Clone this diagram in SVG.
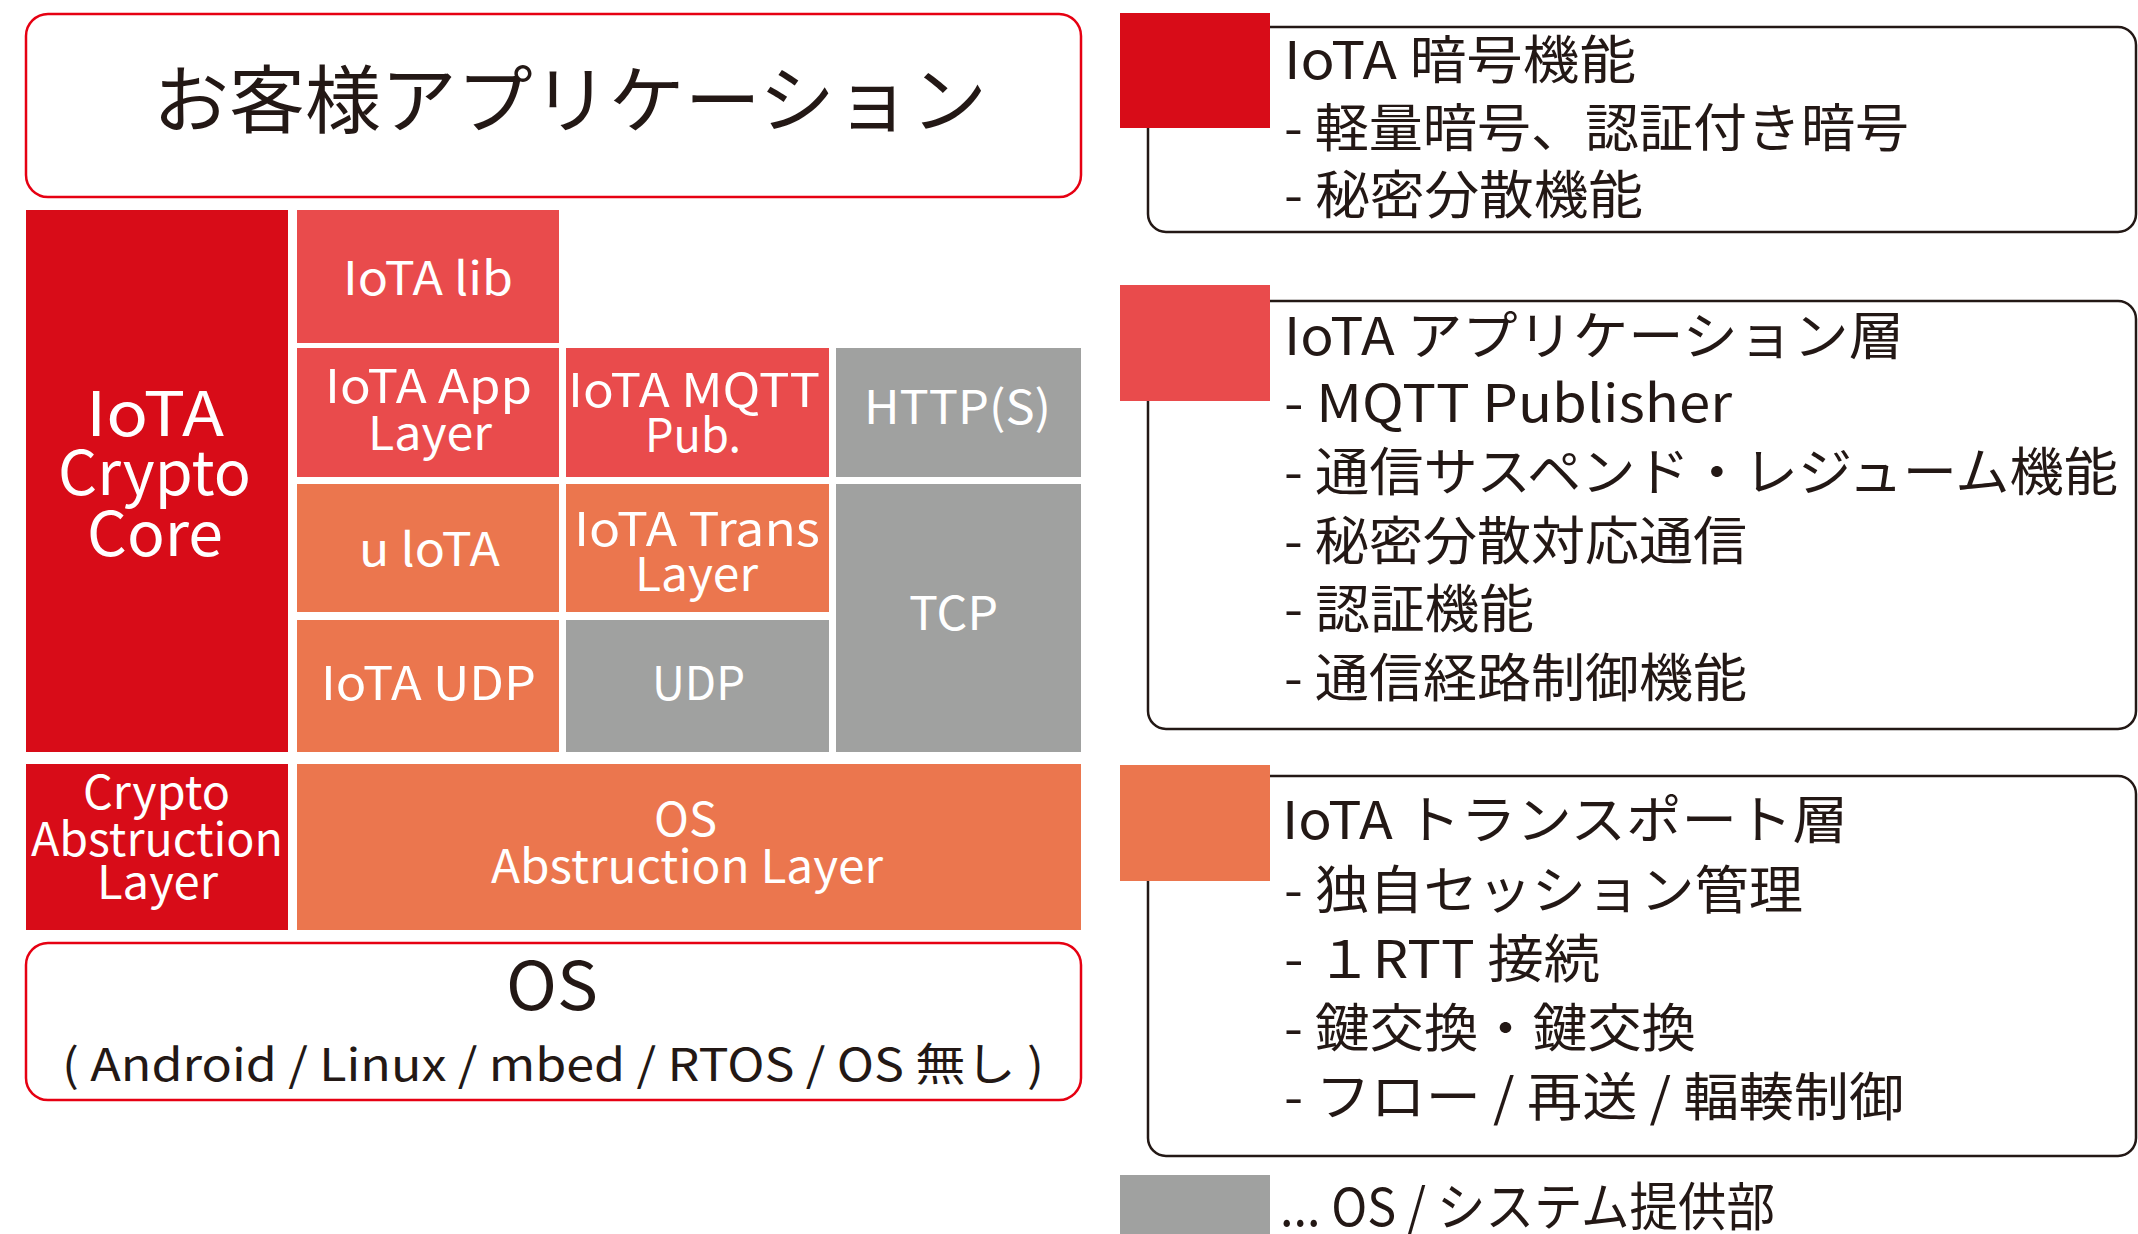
<svg xmlns="http://www.w3.org/2000/svg" width="2138" height="1234" viewBox="0 0 2138 1234">
<style>
text{font-family:"Noto Sans CJK JP","Noto Sans",sans-serif;}
.w{fill:#ffffff;}
.d{fill:#231815;}
.frame{fill:#ffffff;stroke:#E60012;stroke-width:2.5;}
.leg{fill:none;stroke:#231815;stroke-width:2.5;}
.c1{fill:#D80C18;}
.c2{fill:#E94B4C;}
.c3{fill:#EB764E;}
.c4{fill:#A0A1A0;}
.f46{font-size:46px;}
.f52{font-size:52px;}
</style>
<rect width="2138" height="1234" fill="#ffffff"/>
<g id="app">
<rect class="frame" x="26" y="14" width="1055" height="183" rx="22"/>
<text class="d" x="153" y="127" font-size="74" textLength="834" lengthAdjust="spacingAndGlyphs">お客様アプリケーション</text>
</g>
<g id="crypto-core">
<rect class="c1" x="26" y="210" width="262" height="542"/>
<text class="w" x="86" y="436" font-size="61" textLength="138" lengthAdjust="spacingAndGlyphs">IoTA</text>
<text class="w" x="58" y="495" font-size="61" textLength="193" lengthAdjust="spacingAndGlyphs">Crypto</text>
<text class="w" x="87" y="556" font-size="61" textLength="136" lengthAdjust="spacingAndGlyphs">Core</text>
</g>
<g id="iota-lib">
<rect class="c2" x="297" y="210" width="262" height="133"/>
<text class="w f46" x="343" y="295" textLength="170" lengthAdjust="spacingAndGlyphs">IoTA lib</text>
</g>
<g id="iota-app-layer">
<rect class="c2" x="297" y="348" width="262" height="129"/>
<text class="w f46" x="325" y="403" textLength="207" lengthAdjust="spacingAndGlyphs">IoTA App</text>
<text class="w f46" x="368" y="450" textLength="124" lengthAdjust="spacingAndGlyphs">Layer</text>
</g>
<g id="iota-mqtt">
<rect class="c2" x="566" y="348" width="263" height="129"/>
<text class="w f46" x="568" y="407" textLength="252" lengthAdjust="spacingAndGlyphs">IoTA MQTT</text>
<text class="w f46" x="645" y="452" textLength="96" lengthAdjust="spacingAndGlyphs">Pub.</text>
</g>
<g id="http">
<rect class="c4" x="836" y="348" width="245" height="129"/>
<text class="w f46" x="864" y="424" textLength="187" lengthAdjust="spacingAndGlyphs">HTTP(S)</text>
</g>
<g id="u-iota">
<rect class="c3" x="297" y="484" width="262" height="128"/>
<text class="w f46" x="359" y="566" textLength="141" lengthAdjust="spacingAndGlyphs">u loTA</text>
</g>
<g id="iota-trans">
<rect class="c3" x="566" y="484" width="263" height="128"/>
<text class="w f46" x="574" y="546" textLength="246" lengthAdjust="spacingAndGlyphs">IoTA Trans</text>
<text class="w f46" x="635" y="591" textLength="123" lengthAdjust="spacingAndGlyphs">Layer</text>
</g>
<g id="tcp">
<rect class="c4" x="836" y="484" width="245" height="268"/>
<text class="w f46" x="909" y="630" textLength="89" lengthAdjust="spacingAndGlyphs">TCP</text>
</g>
<g id="iota-udp">
<rect class="c3" x="297" y="620" width="262" height="132"/>
<text class="w f46" x="321" y="700" textLength="215" lengthAdjust="spacingAndGlyphs">IoTA UDP</text>
</g>
<g id="udp">
<rect class="c4" x="566" y="620" width="263" height="132"/>
<text class="w f46" x="652" y="700" textLength="93" lengthAdjust="spacingAndGlyphs">UDP</text>
</g>
<g id="crypto-abstruction">
<rect class="c1" x="26" y="764" width="262" height="166"/>
<text class="w f46" x="83" y="809" textLength="147" lengthAdjust="spacingAndGlyphs">Crypto</text>
<text class="w f46" x="31" y="856" textLength="252" lengthAdjust="spacingAndGlyphs">Abstruction</text>
<text class="w f46" x="97" y="899" textLength="121" lengthAdjust="spacingAndGlyphs">Layer</text>
</g>
<g id="os-abstruction">
<rect class="c3" x="297" y="764" width="784" height="166"/>
<text class="w f46" x="654" y="836" textLength="63" lengthAdjust="spacingAndGlyphs">OS</text>
<text class="w f46" x="491" y="883" textLength="392" lengthAdjust="spacingAndGlyphs">Abstruction Layer</text>
</g>
<g id="os">
<rect class="frame" x="26" y="943" width="1055" height="157" rx="22"/>
<text class="d" x="506" y="1010" font-size="67" textLength="92" lengthAdjust="spacingAndGlyphs">OS</text>
<text class="d" x="62" y="1081" font-size="45" textLength="982" lengthAdjust="spacingAndGlyphs">( Android / Linux / mbed / RTOS / OS 無し )</text>
</g>
<g id="legend-crypto">
<rect class="leg" x="1148" y="27" width="988" height="205" rx="18"/>
<rect class="c1" x="1120" y="13" width="150" height="115"/>
<text class="d f52" x="1284" y="79" textLength="352" lengthAdjust="spacingAndGlyphs">IoTA 暗号機能</text>
<text class="d f52" x="1284" y="147" textLength="625" lengthAdjust="spacingAndGlyphs">- 軽量暗号、認証付き暗号</text>
<text class="d f52" x="1284" y="214" textLength="359" lengthAdjust="spacingAndGlyphs">- 秘密分散機能</text>
</g>
<g id="legend-app">
<rect class="leg" x="1148" y="301" width="988" height="428" rx="18"/>
<rect class="c2" x="1120" y="285" width="150" height="116"/>
<text class="d f52" x="1284" y="355" textLength="620" lengthAdjust="spacingAndGlyphs">IoTA アプリケーション層</text>
<text class="d f52" x="1284" y="422" textLength="448" lengthAdjust="spacingAndGlyphs">- MQTT Publisher</text>
<text class="d f52" x="1284" y="491" textLength="834" lengthAdjust="spacingAndGlyphs">- 通信サスペンド・レジューム機能</text>
<text class="d f52" x="1284" y="560" textLength="463" lengthAdjust="spacingAndGlyphs">- 秘密分散対応通信</text>
<text class="d f52" x="1284" y="628" textLength="250" lengthAdjust="spacingAndGlyphs">- 認証機能</text>
<text class="d f52" x="1284" y="697" textLength="463" lengthAdjust="spacingAndGlyphs">- 通信経路制御機能</text>
</g>
<g id="legend-transport">
<rect class="leg" x="1148" y="776" width="988" height="380" rx="18"/>
<rect class="c3" x="1120" y="765" width="150" height="116"/>
<text class="d f52" x="1282" y="839" textLength="566" lengthAdjust="spacingAndGlyphs">IoTA トランスポート層</text>
<text class="d f52" x="1284" y="909" textLength="519" lengthAdjust="spacingAndGlyphs">- 独自セッション管理</text>
<text class="d f52" x="1284" y="978" textLength="316" lengthAdjust="spacingAndGlyphs">- １RTT 接続</text>
<text class="d f52" x="1284" y="1047" textLength="412" lengthAdjust="spacingAndGlyphs">- 鍵交換・鍵交換</text>
<text class="d f52" x="1284" y="1116" textLength="620" lengthAdjust="spacingAndGlyphs">- フロー / 再送 / 輻輳制御</text>
</g>
<g id="legend-os">
<rect class="c4" x="1120" y="1175" width="150" height="59"/>
<text class="d f52" x="1280" y="1226" textLength="495" lengthAdjust="spacingAndGlyphs">... OS / システム提供部</text>
</g>
<g id="connectors"/>
</svg>
